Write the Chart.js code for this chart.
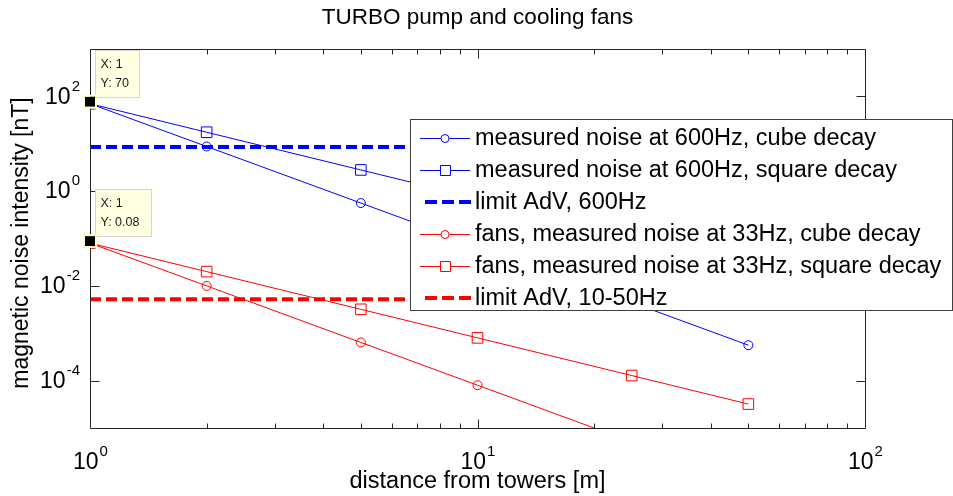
<!DOCTYPE html>
<html lang="en">
<head>
    <meta charset="UTF-8">
    <title>TURBO pump and cooling fans</title>
    <script src="https://cdn.jsdelivr.net/npm/chart.js"></script>
    <style>
        body {
            margin: 0;
            padding: 0;
            background: #fff;
        }
        .chart-box {
            width: 953px;
            height: 496px;
        }
    </style>
</head>
<body>
    <div class="chart-box">
        <canvas id="noiseChart"></canvas>
    </div>
    <script>
        // distances from towers [m]
        const distances = [1, 2, 5, 10, 25, 50];
        // TURBO pump, 600Hz [nT]
        const turboCube = [70, 8.75, 0.56, 0.07, 0.00448, 0.00056];
        const turboSquare = [70, 17.5, 2.8, 0.7, 0.112, 0.028];
        // cooling fans, 33Hz [nT]
        const fansCube = [0.08, 0.01, 0.00064, 0.00008, 0.00000512, 0.00000064];
        const fansSquare = [0.08, 0.02, 0.0032, 0.0008, 0.000128, 0.000032];
        // AdV limits
        const limitRange = [1, 50];
        const limit600 = [8.5, 8.5];
        const limit1050 = [0.0052, 0.0052];

        const xMajor = [1, 10, 100];
        const xMinor = [2, 3, 4, 5, 6, 7, 8, 9, 20, 30, 40, 50, 60, 70, 80, 90];
        const yMajor = [1e-4, 1e-2, 1, 1e2];
        const xTickLabels = [['10', '0'], ['10', '1'], ['10', '2']];
        const yTickLabels = [['10', '-4'], ['10', '-2'], ['10', '0'], ['10', '2']];

        const datatips = [
            { x: 1, y: 70, text: ['X: 1', 'Y: 70'], w: 44 },
            { x: 1, y: 0.08, text: ['X: 1', 'Y: 0.08'], w: 56 }
        ];

        const BLUE = '#0000ff';
        const RED = '#ff0000';
        const FONT = '"Liberation Sans", Arial, sans-serif';

        const pts = (xs, ys) => xs.map((x, i) => ({ x: x, y: ys[i] }));

        const series = [
            { label: 'measured noise at 600Hz, cube decay', data: pts(distances, turboCube), color: BLUE, marker: 'circle' },
            { label: 'measured noise at 600Hz, square decay', data: pts(distances, turboSquare), color: BLUE, marker: 'rect' },
            { label: 'limit AdV, 600Hz', data: pts(limitRange, limit600), color: BLUE, dashed: true },
            { label: 'fans, measured noise at 33Hz, cube decay', data: pts(distances, fansCube), color: RED, marker: 'circle' },
            { label: 'fans, measured noise at 33Hz, square decay', data: pts(distances, fansSquare), color: RED, marker: 'rect' },
            { label: 'limit AdV, 10-50Hz', data: pts(limitRange, limit1050), color: RED, dashed: true }
        ];

        function powerLabel(ctx, base, exp, x, y, align) {
            ctx.font = '23px ' + FONT;
            const bw = ctx.measureText(base).width;
            ctx.font = '15px ' + FONT;
            const ew = ctx.measureText(exp).width;
            let left = x;
            if (align === 'center') left = x - (bw + ew) / 2;
            if (align === 'right') left = x - bw - ew;
            ctx.textAlign = 'left';
            ctx.textBaseline = 'middle';
            ctx.font = '23px ' + FONT;
            ctx.fillText(base, left, y);
            ctx.font = '15px ' + FONT;
            ctx.fillText(exp, left + bw + 1, y - 11);
        }

        // MATLAB style axes box, ticks, labels and title
        const axesPlugin = {
            id: 'axesPlugin',
            afterDraw(chart) {
                const ctx = chart.ctx;
                const a = chart.chartArea;
                const xs = chart.scales.x, ys = chart.scales.y;
                ctx.save();
                ctx.strokeStyle = '#262626';
                ctx.lineWidth = 1;
                ctx.beginPath();
                const l = Math.round(a.left) + 0.5, r = Math.round(a.right) + 0.5;
                const t = Math.round(a.top) + 0.5, b = Math.round(a.bottom) + 0.5;
                ctx.rect(l, t, r - l, b - t);
                xMajor.concat(xMinor).forEach(v => {
                    const px = Math.round(xs.getPixelForValue(v)) + 0.5;
                    const len = xMajor.includes(v) ? 9 : 5;
                    ctx.moveTo(px, b); ctx.lineTo(px, b - len);
                    ctx.moveTo(px, t); ctx.lineTo(px, t + len);
                });
                yMajor.forEach(v => {
                    const py = Math.round(ys.getPixelForValue(v)) + 0.5;
                    ctx.moveTo(l, py); ctx.lineTo(l + 9, py);
                    ctx.moveTo(r, py); ctx.lineTo(r - 9, py);
                });
                ctx.stroke();

                ctx.fillStyle = '#000';
                xMajor.forEach((v, i) => {
                    powerLabel(ctx, xTickLabels[i][0], xTickLabels[i][1], xs.getPixelForValue(v), a.bottom + 35, 'center');
                });
                yMajor.forEach((v, i) => {
                    powerLabel(ctx, yTickLabels[i][0], yTickLabels[i][1], a.left - 11, ys.getPixelForValue(v) + 1, 'right');
                });

                ctx.textAlign = 'center';
                ctx.textBaseline = 'middle';
                ctx.font = '22.5px ' + FONT;
                ctx.fillText('TURBO pump and cooling fans', (a.left + a.right) / 2, 18);
                ctx.font = '23.5px ' + FONT;
                ctx.fillText('distance from towers [m]', (a.left + a.right) / 2, 482);
                ctx.save();
                ctx.translate(22, 243);
                ctx.rotate(-Math.PI / 2);
                ctx.font = '23px ' + FONT;
                ctx.fillText('magnetic noise intensity [nT]', 0, 0);
                ctx.restore();
                ctx.restore();
            }
        };

        // data tips with the black square marker
        const datatipPlugin = {
            id: 'datatipPlugin',
            afterDraw(chart) {
                const ctx = chart.ctx;
                const xs = chart.scales.x, ys = chart.scales.y;
                ctx.save();
                datatips.forEach(d => {
                    const px = xs.getPixelForValue(d.x);
                    const py = ys.getPixelForValue(d.y) - 2;
                    const bx = Math.round(px + 5) + 0.5, by = Math.round(py - 52) + 0.5;
                    ctx.fillStyle = '#ffffe1';
                    ctx.strokeStyle = '#d6d6d6';
                    ctx.lineWidth = 1;
                    ctx.fillRect(bx, by, d.w, 47);
                    ctx.strokeRect(bx, by, d.w, 47);
                    ctx.fillStyle = '#1a1a1a';
                    ctx.font = '12.5px ' + FONT;
                    ctx.textAlign = 'left';
                    ctx.textBaseline = 'middle';
                    ctx.fillText(d.text[0], bx + 5, by + 14);
                    ctx.fillText(d.text[1], bx + 5, by + 33);
                    ctx.fillStyle = '#000';
                    ctx.strokeStyle = '#ffffcc';
                    ctx.lineWidth = 2;
                    ctx.fillRect(px - 5, py - 5, 10, 10);
                    ctx.strokeRect(px - 6, py - 6, 12, 12);
                });
                ctx.restore();
            }
        };

        // legend box drawn over the plot, like MATLAB
        const legendPlugin = {
            id: 'legendPlugin',
            afterDraw(chart) {
                const ctx = chart.ctx;
                const box = { left: 410.5, top: 119.5, right: 952.5, bottom: 310.5 };
                ctx.save();
                ctx.fillStyle = '#fff';
                ctx.strokeStyle = '#404040';
                ctx.lineWidth = 1;
                ctx.fillRect(box.left, box.top, box.right - box.left, box.bottom - box.top);
                ctx.strokeRect(box.left, box.top, box.right - box.left, box.bottom - box.top);
                series.forEach((s, i) => {
                    const y = 138 + i * 32;
                    ctx.strokeStyle = s.color;
                    if (s.dashed) {
                        ctx.lineWidth = 4;
                        ctx.setLineDash([12, 5]);
                        ctx.beginPath();
                        ctx.moveTo(425, y); ctx.lineTo(471, y);
                        ctx.stroke();
                        ctx.setLineDash([]);
                    } else {
                        ctx.lineWidth = 1;
                        ctx.beginPath();
                        ctx.moveTo(420, y + 0.5); ctx.lineTo(470, y + 0.5);
                        ctx.stroke();
                        ctx.beginPath();
                        if (s.marker === 'circle') {
                            ctx.arc(445, y + 0.5, 4, 0, Math.PI * 2);
                        } else {
                            ctx.rect(440.5, y - 4.5, 10, 10);
                        }
                        ctx.fillStyle = '#fff';
                        ctx.fill();
                        ctx.stroke();
                    }
                    ctx.fillStyle = '#000';
                    ctx.font = '23.5px ' + FONT;
                    ctx.textAlign = 'left';
                    ctx.textBaseline = 'middle';
                    ctx.fillText(s.label, 475, y + 1);
                });
                ctx.restore();
            }
        };

        new Chart(document.getElementById('noiseChart'), {
            type: 'line',
            data: {
                datasets: series.map(s => ({
                    label: s.label,
                    data: s.data,
                    borderColor: s.color,
                    borderWidth: s.dashed ? 4 : 1,
                    borderDash: s.dashed ? [11, 5] : [],
                    pointStyle: s.marker || 'circle',
                    pointRadius: s.dashed ? 0 : (s.marker === 'rect' ? 7.5 : 4.5),
                    pointBorderWidth: 1,
                    pointBorderColor: s.color,
                    pointBackgroundColor: 'rgba(0,0,0,0)',
                    tension: 0,
                    fill: false
                }))
            },
            options: {
                responsive: true,
                maintainAspectRatio: false,
                animation: false,
                layout: { padding: { left: 90, right: 88, top: 49, bottom: 68 } },
                plugins: {
                    legend: { display: false },
                    title: { display: false },
                    tooltip: { enabled: false }
                },
                scales: {
                    x: { type: 'logarithmic', min: 1, max: 100, display: false },
                    y: { type: 'logarithmic', min: 1e-5, max: 1e3, display: false }
                }
            },
            plugins: [axesPlugin, datatipPlugin, legendPlugin]
        });
    </script>
</body>
</html>
